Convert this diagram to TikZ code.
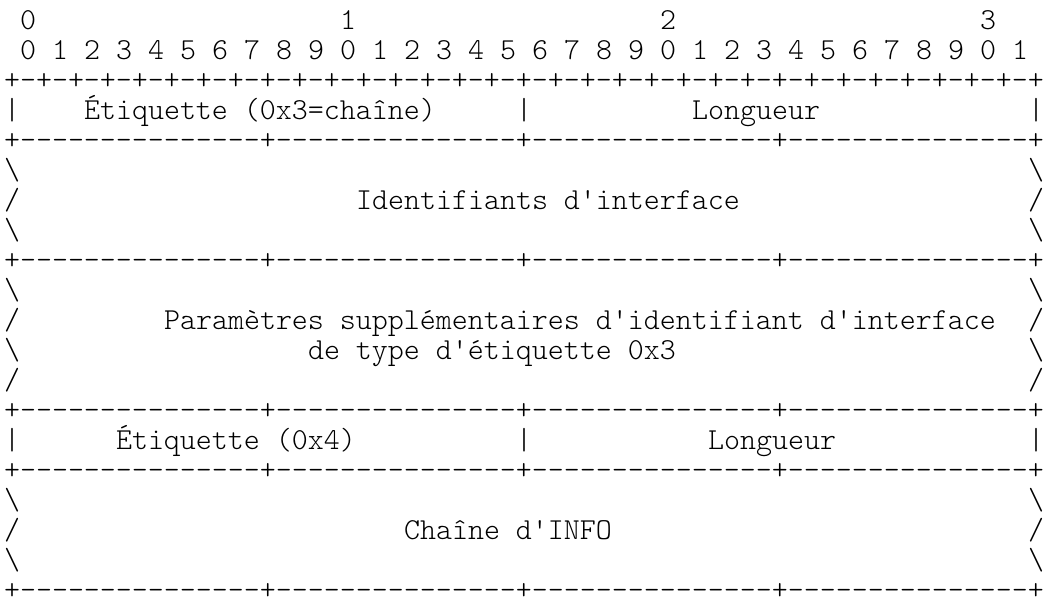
\documentclass[tikz,border=0pt]{standalone}
\usepackage{fontspec}
\setmonofont{Latin Modern Mono Light}
\usepackage{tikz}

\begin{document}
\begin{tikzpicture}[
    x=8pt,y=-15pt,
    ascii/.style={anchor=base west,inner sep=0pt,outer sep=0pt,font=\ttfamily\fontsize{15.238pt}{15pt}\selectfont},
  ]
  \useasboundingbox (-2pt,14.5pt) rectangle (521pt,-286.5pt);

  % Bit ruler
  \foreach \t [count=\i from 0] in {0,1,2,3}
    \node[ascii] (tens\i) at (1+20*\i,0) {\t};
  \foreach \b in {0,...,31} {
    \pgfmathtruncatemacro{\d}{mod(\b,10)}
    \node[ascii] (bit\b) at (1+2*\b,1) {\d};
  }
  \node[ascii] (ruler) at (0,2) {+-+-+-+-+-+-+-+-+-+-+-+-+-+-+-+-+-+-+-+-+-+-+-+-+-+-+-+-+-+-+-+-+};

  % Separator lines
  \foreach \r in {4,8,13,15,19}
    \node[ascii] (sep\r) at (0,\r) {+---------------+---------------+---------------+---------------+};

  % Field borders
  \foreach \r in {3,14} {
    \node[ascii] (bl\r) at (0,\r) {|};
    \node[ascii] (bm\r) at (32,\r) {|};
    \node[ascii] (br\r) at (64,\r) {|};
  }
  \foreach \r in {5,7,9,11,16,18} {
    \node[ascii] (bsl\r) at (0,\r) {\textbackslash};
    \node[ascii] (bsr\r) at (64,\r) {\textbackslash};
  }
  \foreach \r in {6,10,12,17} {
    \node[ascii] (sl\r) at (0,\r) {/};
    \node[ascii] (sr\r) at (64,\r) {/};
  }

  % Field names
  \node[ascii] (tag1) at (5,3) {Étiquette (0x3=chaîne)};
  \node[ascii] (len1) at (43,3) {Longueur};
  \node[ascii] (ifid) at (22,6) {Identifiants d'interface};
  \node[ascii] (param) at (10,10) {Paramètres supplémentaires d'identifiant d'interface};
  \node[ascii] (paramb) at (19,11) {de type d'étiquette 0x3};
  \node[ascii] (tag2) at (7,14) {Étiquette (0x4)};
  \node[ascii] (len2) at (44,14) {Longueur};
  \node[ascii] (info) at (25,17) {Chaîne d'INFO};
\end{tikzpicture}
\end{document}
